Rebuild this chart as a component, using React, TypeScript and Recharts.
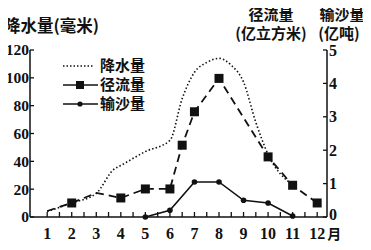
import { LineChart, Line, XAxis, YAxis } from 'recharts';

// 降水量 (毫米), left axis
const rainMonth = [1, 2, 3, 3.7, 4, 5, 6, 6.5, 7, 7.5, 8, 8.5, 9, 9.5, 10, 11];
const rainMm = [4, 10, 17, 34, 37, 47, 55, 85, 104, 111, 114, 109, 97, 68, 45, 23];

// 径流量 (亿立方米), right axis; sq = point drawn with a square
const flowMonth = [1, 2, 3, 4, 5, 6, 6.5, 7, 8, 10, 11, 12];
const flowVal = [0.18, 0.42, 0.72, 0.57, 0.84, 0.84, 2.15, 3.15, 4.15, 1.8, 0.95, 0.42];
const flowSq = [false, true, false, true, true, true, true, true, true, true, true, true];

// 输沙量 (亿吨), right axis
const sandMonth = [5, 6, 7, 8, 9, 10, 11];
const sandVal = [0, 0.2, 1.05, 1.05, 0.5, 0.42, 0.03];

const leftTicks = [0, 20, 40, 60, 80, 100, 120];
const rightTicks = [0, 1, 2, 3, 4, 5];
const monthTicks = [1, 1.5, 2, 2.5, 3, 3.5, 4, 4.5, 5, 5.5, 6, 6.5, 7, 7.5, 8, 8.5, 9, 9.5, 10, 10.5, 11, 11.5, 12];

const rain = rainMonth.map((m, i) => ({ m, v: rainMm[i] }));
const flow = flowMonth.map((m, i) => ({ m, v: flowVal[i], sq: flowSq[i] }));
const sand = sandMonth.map((m, i) => ({ m, v: sandVal[i] }));

const NUM = '"Liberation Serif", "DejaVu Serif", serif';
const CJK = '"Noto Sans CJK SC", "Noto Sans", sans-serif';

function LeftTick(p: any) {
  return (
    <g>
      <line x1={p.x} x2={p.x + 4} y1={p.y} y2={p.y} stroke="#111" strokeWidth={1.3} />
      <text x={p.x - 1} y={p.y} dy="0.35em" textAnchor="end" fontFamily={NUM} fontWeight="bold" fontSize={15.5} fill="#111">
        {p.payload.value}
      </text>
    </g>
  );
}

function RightTick(p: any) {
  const v = p.payload.value;
  return (
    <g>
      <line x1={p.x - 4} x2={p.x} y1={p.y} y2={p.y} stroke="#111" strokeWidth={1.3} />
      <text x={p.x + 2} y={v === 0 ? p.y - 3 : p.y} dy="0.35em" textAnchor="start" fontFamily={NUM} fontWeight="bold" fontSize={16} fill="#111">
        {v}
      </text>
    </g>
  );
}

function MonthTick(p: any) {
  const v = p.payload.value;
  const whole = Number.isInteger(v);
  return (
    <g>
      <line x1={p.x} x2={p.x} y1={p.y - 5} y2={p.y} stroke="#111" strokeWidth={1.3} />
      {whole && (
        <text x={p.x} y={p.y + 22} textAnchor="middle" fontFamily={NUM} fontWeight="bold" fontSize={16} fill="#111">
          {v}
        </text>
      )}
      {v === 12 && (
        <text x={p.x + 10} y={p.y + 22} textAnchor="start" fontFamily={CJK} fontWeight="bold" fontSize={14} fill="#111">
          月
        </text>
      )}
    </g>
  );
}

function FlowDot(p: any) {
  if (!p.payload.sq) return <g key={p.index} />;
  return <rect key={p.index} x={p.cx - 4.5} y={p.cy - 4.5} width={9} height={9} fill="#111" />;
}

function Overlay() {
  const t = { fontFamily: CJK, fontWeight: 700, fill: '#111' } as const;
  return (
    <svg width={371} height={250} style={{ position: 'absolute', left: 0, top: 0, pointerEvents: 'none' }}>
      <rect x={0} y={243} width={371} height={7} fill="#fcecf1" />
      <text x={4} y={32} fontSize={16.5} {...t}>降水量(毫米)</text>
      <text x={271} y={20} fontSize={15} textAnchor="middle" {...t}>径流量</text>
      <text x={271} y={39} fontSize={15} textAnchor="middle" {...t}>(亿立方米)</text>
      <text x={342} y={20} fontSize={15} textAnchor="middle" {...t}>输沙量</text>
      <text x={339} y={39} fontSize={15} textAnchor="middle" {...t}>(亿吨)</text>

      <line x1={63} x2={93} y1={66} y2={66} stroke="#111" strokeWidth={1.5} strokeDasharray="1.5 2" />
      <text x={100} y={71} fontSize={15} {...t}>降水量</text>

      <line x1={63} x2={98} y1={85} y2={85} stroke="#111" strokeWidth={1.6} />
      <rect x={76} y={81} width={8} height={8} fill="#111" />
      <text x={100} y={90} fontSize={15} {...t}>径流量</text>

      <line x1={63} x2={98} y1={104} y2={104} stroke="#111" strokeWidth={1.6} />
      <circle cx={80} cy={104} r={2.6} fill="#111" />
      <text x={100} y={109} fontSize={15} {...t}>输沙量</text>
    </svg>
  );
}

export default function App() {
  return (
    <div style={{ position: 'relative', width: 371, height: 250, margin: -8, background: '#fff' }}>
      <LineChart width={371} height={250} margin={{ top: 50, right: 0, bottom: 0, left: 0 }}>
        <XAxis
          dataKey="m"
          type="number"
          domain={[0.3, 12.4]}
          ticks={monthTicks}
          allowDecimals
          interval={0}
          height={33}
          tickSize={0}
          tickMargin={0}
          tickLine={false}
          axisLine={{ stroke: '#111', strokeWidth: 1.5 }}
          tick={(p: any) => <MonthTick {...p} />}
        />
        <YAxis
          yAxisId="l"
          orientation="left"
          domain={[0, 120]}
          ticks={leftTicks}
          width={30}
          tickSize={0}
          tickMargin={0}
          tickLine={false}
          axisLine={{ stroke: '#111', strokeWidth: 1.5 }}
          tick={(p: any) => <LeftTick {...p} />}
        />
        <YAxis
          yAxisId="r"
          orientation="right"
          domain={[0, 5]}
          ticks={rightTicks}
          width={44}
          tickSize={0}
          tickMargin={0}
          tickLine={false}
          axisLine={{ stroke: '#111', strokeWidth: 1.5 }}
          tick={(p: any) => <RightTick {...p} />}
        />
        <Line
          yAxisId="l"
          data={rain}
          dataKey="v"
          type="monotone"
          stroke="#111"
          strokeWidth={1.6}
          strokeDasharray="1.5 2.2"
          dot={false}
          isAnimationActive={false}
        />
        <Line
          yAxisId="r"
          data={flow}
          dataKey="v"
          type="linear"
          stroke="#111"
          strokeWidth={1.8}
          strokeDasharray="8 5"
          dot={(p: any) => <FlowDot key={p.index} {...p} />}
          isAnimationActive={false}
        />
        <Line
          yAxisId="r"
          data={sand}
          dataKey="v"
          type="linear"
          stroke="#111"
          strokeWidth={1.6}
          dot={{ r: 2.8, fill: '#111', stroke: '#111', strokeWidth: 0 }}
          isAnimationActive={false}
        />
      </LineChart>
      <Overlay />
    </div>
  );
}
